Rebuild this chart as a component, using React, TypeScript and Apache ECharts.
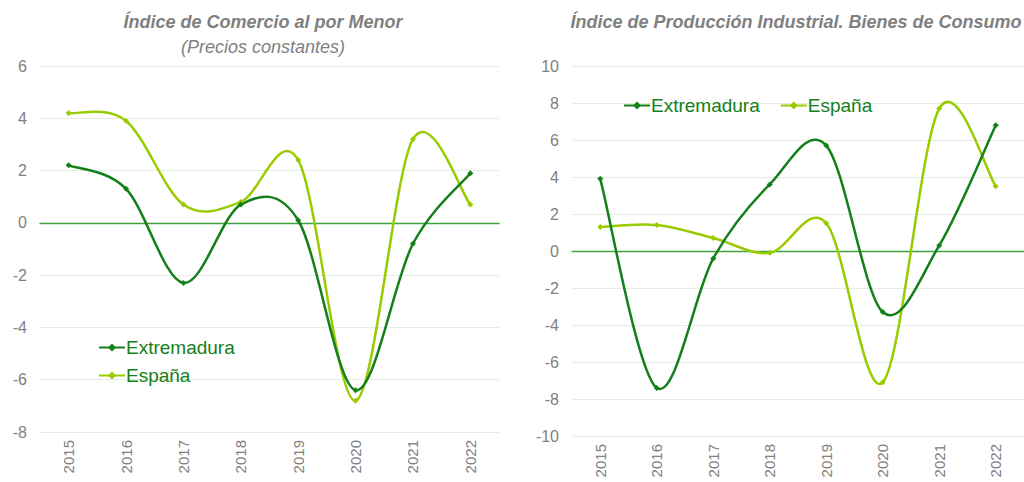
import React, { useEffect, useRef } from "react";
import * as echarts from "echarts";

const years = ["2015", "2016", "2017", "2018", "2019", "2020", "2021", "2022"];
const comercioExtremadura = [2.2, 1.3, -2.3, 0.7, 0.1, -6.4, -0.8, 1.9];
const comercioEspana = [4.2, 3.9, 0.7, 0.8, 2.4, -6.8, 3.2, 0.7];
const produccionExtremadura = [3.9, -7.4, -0.4, 3.6, 5.7, -3.3, 0.3, 6.8];
const produccionEspana = [1.3, 1.4, 0.7, -0.1, 1.5, -7.1, 7.7, 3.5];

const DARK = "#14801a";
const LIGHT = "#99cc00";
const GREY = "#808080";
const ZERO = "#3fa23f";
const FONT = "'Liberation Sans', Arial, sans-serif";

export default function App() {
  const ref = useRef<HTMLDivElement>(null);
  useEffect(() => {
    if (!ref.current) return;
    const chart = echarts.init(ref.current, undefined, { renderer: "svg" });
    const xAxisCommon = {
      type: "category" as const,
      data: years,
      boundaryGap: true,
      z: 0,
      axisLine: { show: true, onZero: true, lineStyle: { color: ZERO, width: 1.4 } },
      axisTick: { show: false },
      axisLabel: { rotate: 90, color: GREY, fontSize: 15, fontFamily: FONT, margin: 8 },
      splitLine: { show: false },
    };
    const yAxisCommon = {
      type: "value" as const,
      interval: 2,
      z: 0,
      axisLine: { show: false },
      axisTick: { show: false },
      axisLabel: { color: GREY, fontSize: 16, fontFamily: FONT, margin: 13 },
      splitLine: { lineStyle: { color: "#e3eee0", width: 1 } },
    };
    const markers = (name: string, data: number[], color: string, idx: number) => ({
      name,
      type: "line" as const,
      xAxisIndex: idx,
      yAxisIndex: idx,
      data,
      symbol: "diamond",
      symbolSize: 6,
      lineStyle: { color, width: 2.5, opacity: 0 },
      itemStyle: { color },
      z: name === "Extremadura" ? 9 : 8,
    });
    const curve = (name: string, data: number[], color: string, idx: number) => ({
      name: name + " curva",
      type: "custom" as const,
      xAxisIndex: idx,
      yAxisIndex: idx,
      data: data.map((v, i) => [i, v]),
      encode: { x: 0, y: 1 },
      silent: true,
      z: name === "Extremadura" ? 7 : 6,
      renderItem: (params: any, api: any) => {
        const i = params.dataIndex;
        const n = data.length;
        if (i >= n - 1) return null;
        const p = (j: number) => {
          const k = Math.max(0, Math.min(n - 1, j));
          return api.coord([k, data[k]]);
        };
        const p0 = p(i - 1);
        const p1 = p(i);
        const p2 = p(i + 1);
        const p3 = p(i + 2);
        return {
          type: "bezierCurve",
          shape: {
            x1: p1[0],
            y1: p1[1],
            x2: p2[0],
            y2: p2[1],
            cpx1: p1[0] + (p2[0] - p0[0]) / 6,
            cpy1: p1[1] + (p2[1] - p0[1]) / 6,
            cpx2: p2[0] - (p3[0] - p1[0]) / 6,
            cpy2: p2[1] - (p3[1] - p1[1]) / 6,
          },
          style: { stroke: color, lineWidth: 2.5, fill: null, lineCap: "round" },
        };
      },
    });
    const legendCommon = {
      itemWidth: 26,
      itemHeight: 10,
      data: ["Extremadura", "España"],
      lineStyle: { opacity: 1 },
      textStyle: { color: DARK, fontSize: 19, fontFamily: FONT, padding: [0, 0, 0, -4] },
    };
    chart.setOption({
      animation: false,
      backgroundColor: "#ffffff",
      textStyle: { fontFamily: FONT },
      title: [
        {
          text: "Índice de Comercio al por Menor",
          left: 258,
          top: 8,
          textAlign: "center",
          textStyle: { color: GREY, fontSize: 18, fontWeight: "bold", fontStyle: "italic", fontFamily: FONT },
        },
        {
          text: "(Precios constantes)",
          left: 258,
          top: 33,
          textAlign: "center",
          textStyle: { color: GREY, fontSize: 18, fontWeight: "normal", fontStyle: "italic", fontFamily: FONT },
        },
        {
          text: "Índice de Producción Industrial. Bienes de Consumo",
          left: 791,
          top: 8,
          textAlign: "center",
          textStyle: { color: GREY, fontSize: 18, fontWeight: "bold", fontStyle: "italic", fontFamily: FONT },
        },
      ],
      legend: [
        { ...legendCommon, orient: "vertical", left: 93, top: 333, itemGap: 9 },
        { ...legendCommon, orient: "horizontal", left: 618, top: 91, itemGap: 20 },
      ],
      grid: [
        { left: 40, top: 66, width: 459, height: 366 },
        { left: 572, top: 66, width: 459, height: 370 },
      ],
      xAxis: [
        { ...xAxisCommon, gridIndex: 0 },
        { ...xAxisCommon, gridIndex: 1 },
      ],
      yAxis: [
        { ...yAxisCommon, gridIndex: 0, min: -8, max: 6 },
        { ...yAxisCommon, gridIndex: 1, min: -10, max: 10 },
      ],
      series: [
        curve("España", comercioEspana, LIGHT, 0),
        curve("Extremadura", comercioExtremadura, DARK, 0),
        curve("España", produccionEspana, LIGHT, 1),
        curve("Extremadura", produccionExtremadura, DARK, 1),
        markers("Extremadura", comercioExtremadura, DARK, 0),
        markers("España", comercioEspana, LIGHT, 0),
        markers("Extremadura", produccionExtremadura, DARK, 1),
        markers("España", produccionEspana, LIGHT, 1),
      ],
    });
    return () => chart.dispose();
  }, []);
  return <div ref={ref} style={{ width: 1024, height: 482, position: "absolute", left: 0, top: 0 }} />;
}
